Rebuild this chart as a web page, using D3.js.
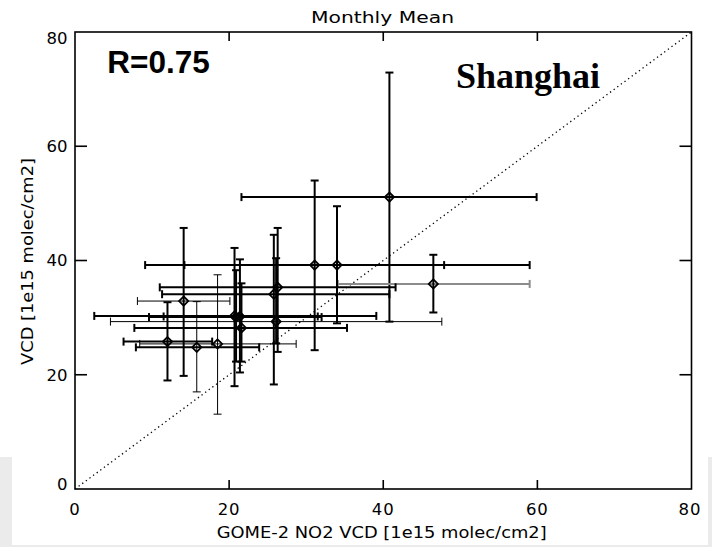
<!DOCTYPE html>
<html>
<head>
<meta charset="utf-8">
<script src="https://cdn.jsdelivr.net/npm/d3@7"></script>
<style>
  html, body { margin: 0; padding: 0; background: #ffffff; }
  svg { display: block; }
  text { font-family: "DejaVu Sans", "Liberation Sans", Arial, sans-serif; fill: #000; }
</style>
</head>
<body>
<svg id="chart" width="712" height="547"></svg>
<script>
// Monthly mean NO2 columns over Shanghai: GOME-2 (x) against ground VCD (y)
const satMean   = [40.8, 46.5, 31.1, 34.0, 14.1, 15.8, 18.5, 12.0, 20.7, 20.9, 21.4, 21.6, 26.3, 25.8, 26.1];
const satLow    = [21.6, 34.1,  9.1, 14.2,  8.1,  7.9,  8.4,  6.3,  2.5,  9.6, 11.5,  7.7, 11.0, 11.3,  4.6];
const satHigh   = [59.9, 59.0, 47.9, 59.0, 20.1, 23.9, 28.7, 17.8, 39.1, 32.0, 31.5, 35.3, 41.6, 40.8, 47.6];
const groundMean = [51.1, 35.9, 39.2, 39.2, 32.9, 24.8, 25.4, 25.8, 30.3, 30.1, 30.2, 28.2, 35.3, 34.1, 29.3];
const groundLow  = [29.3, 30.9, 24.3, 29.0, 19.8, 17.0, 13.1, 19.0, 18.0, 22.3, 20.4, 22.3, 24.0, 18.3, 25.5];
const groundHigh = [72.9, 41.0, 54.0, 49.5, 45.7, 32.8, 37.5, 32.7, 42.2, 38.3, 40.2, 36.0, 45.7, 44.5, 40.4];

const axisTicks = [0, 20, 40, 60, 80];
const titleText = "Monthly Mean";
const xTitle = "GOME-2 NO2 VCD [1e15 molec/cm2]";
const yTitle = "VCD [1e15 molec/cm2]";
const corrLabel = "R=0.75";
const siteLabel = "Shanghai";

// line weights for individual error bars (points listed by index)
const thinX = new Set([4, 6, 14]);
const thinY = new Set([5, 6]);
const greyX = new Set([1]);

const svg = d3.select("#chart");

// light surround along the lower edge of the figure
svg.append("rect").attr("x", 0).attr("y", 457).attr("width", 12).attr("height", 90).attr("fill", "#ebebeb");
svg.append("rect").attr("x", 708).attr("y", 457).attr("width", 4).attr("height", 90).attr("fill", "#ebebeb");
svg.append("rect").attr("x", 0).attr("y", 545).attr("width", 712).attr("height", 2).attr("fill", "#ebebeb");

const x = d3.scaleLinear().domain([0, 80]).range([75, 691.5]);
const y = d3.scaleLinear().domain([0, 80]).range([489, 32]);

const g = svg.append("g");

// 1:1 reference line
g.append("line")
  .attr("x1", x(0)).attr("y1", y(0)).attr("x2", x(80)).attr("y2", y(80))
  .attr("stroke", "#000").attr("stroke-width", 1.3)
  .attr("stroke-dasharray", "1.3,3.2");

const pts = satMean.map((v, i) => ({
  i, x: v, y: groundMean[i],
  xl: satLow[i], xh: satHigh[i], yl: groundLow[i], yh: groundHigh[i]
}));

const cap = 4;
const bars = g.append("g");
pts.forEach(p => {
  const wx = thinX.has(p.i) ? 1 : 2;
  const wy = thinY.has(p.i) ? 1 : 2;
  const cx = greyX.has(p.i) ? "#8c8c8c" : "#000";
  // horizontal (satellite) spread
  bars.append("line").attr("x1", x(p.xl)).attr("x2", x(p.xh)).attr("y1", y(p.y)).attr("y2", y(p.y))
    .attr("stroke", cx).attr("stroke-width", wx);
  [p.xl, p.xh].forEach(v => bars.append("line")
    .attr("x1", x(v)).attr("x2", x(v)).attr("y1", y(p.y) - cap).attr("y2", y(p.y) + cap)
    .attr("stroke", cx).attr("stroke-width", wx));
  // vertical (ground) spread
  bars.append("line").attr("x1", x(p.x)).attr("x2", x(p.x)).attr("y1", y(p.yl)).attr("y2", y(p.yh))
    .attr("stroke", "#000").attr("stroke-width", wy);
  [p.yl, p.yh].forEach(v => bars.append("line")
    .attr("x1", x(p.x) - cap).attr("x2", x(p.x) + cap).attr("y1", y(v)).attr("y2", y(v))
    .attr("stroke", "#000").attr("stroke-width", wy));
});

// open diamond markers
g.append("g").selectAll("path").data(pts).join("path")
  .attr("transform", d => `translate(${x(d.x)},${y(d.y)})`)
  .attr("d", "M0,-4.6L4.6,0L0,4.6L-4.6,0Z")
  .attr("fill", "none").attr("stroke", "#000").attr("stroke-width", 1.8);

// frame and inward ticks
const frame = svg.append("g").attr("stroke", "#000").attr("stroke-width", 1.6).attr("fill", "none");
frame.append("rect").attr("x", x(0)).attr("y", y(80)).attr("width", x(80) - x(0)).attr("height", y(0) - y(80));
const inner = axisTicks.filter(t => t > 0 && t < 80);
inner.forEach(t => {
  frame.append("line").attr("x1", x(t)).attr("x2", x(t)).attr("y1", y(0)).attr("y2", y(0) - 9);
  frame.append("line").attr("x1", x(t)).attr("x2", x(t)).attr("y1", y(80)).attr("y2", y(80) + 9);
  frame.append("line").attr("x1", x(0)).attr("x2", x(0) + 12).attr("y1", y(t)).attr("y2", y(t));
  frame.append("line").attr("x1", x(80)).attr("x2", x(80) - 12).attr("y1", y(t)).attr("y2", y(t));
});

// tick labels
const fs = 16.5;
svg.append("g").selectAll("text").data(axisTicks).join("text")
  .attr("x", 67.5)
  .attr("y", d => Math.min(Math.max(y(d), 38.5), 484))
  .attr("dy", "0.36em")
  .attr("text-anchor", "end")
  .attr("font-size", fs)
  .text(d => d);
svg.append("g").selectAll("text").data(axisTicks).join("text")
  .attr("x", d => Math.min(x(d), 690))
  .attr("y", 515)
  .attr("text-anchor", "middle")
  .attr("font-size", fs)
  .attr("letter-spacing", 1)
  .text(d => d);

// titles
svg.append("text").attr("x", 382.5).attr("y", 23).attr("text-anchor", "middle")
  .attr("font-size", fs).attr("textLength", 143).attr("lengthAdjust", "spacingAndGlyphs").text(titleText);
svg.append("text").attr("x", 381.7).attr("y", 538).attr("text-anchor", "middle")
  .attr("font-size", fs).attr("textLength", 330).attr("lengthAdjust", "spacingAndGlyphs").text(xTitle);
svg.append("text").attr("transform", "translate(33.3,261.5) rotate(-90)").attr("text-anchor", "middle")
  .attr("font-size", fs).attr("textLength", 207).attr("lengthAdjust", "spacingAndGlyphs").text(yTitle);

// annotations
svg.append("text").attr("x", 107.3).attr("y", 73.3)
  .style("font-family", "'Liberation Sans', Arial, sans-serif")
  .attr("font-size", 31.5).attr("font-weight", "bold").text(corrLabel);
svg.append("text").attr("x", 456).attr("y", 88.3)
  .style("font-family", "'Liberation Serif', 'Times New Roman', serif")
  .attr("font-size", 36).attr("font-weight", "bold").text(siteLabel);
</script>
</body>
</html>
